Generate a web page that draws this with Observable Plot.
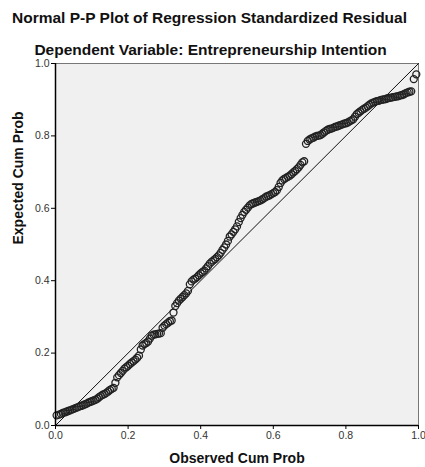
<!DOCTYPE html>
<html>
<head>
<meta charset="utf-8">
<script src="https://cdn.jsdelivr.net/npm/d3@7"></script>
<script src="https://cdn.jsdelivr.net/npm/@observablehq/plot@0.6"></script>
<style>
  html, body { margin: 0; padding: 0; background: #fff; }
  #wrap { position: relative; width: 425px; height: 467px; font-family: "Liberation Sans", Arial, sans-serif; }
  .ttl { position: absolute; left: 0; width: 425px; text-align: center; font-weight: bold; font-size: 15.5px; line-height: 18px; color: #111; white-space: nowrap; }
  #t1 { top: 9px; left: -3px; }
  #t2 { top: 41px; left: -2px; }
</style>
</head>
<body>
<div id="wrap">
  <div id="chart"></div>
  <div class="ttl" id="t1">Normal P-P Plot of Regression Standardized Residual</div>
  <div class="ttl" id="t2">Dependent Variable: Entrepreneurship Intention</div>
</div>
<script>
const titleText = "Normal P-P Plot of Regression Standardized Residual";
const subtitleText = "Dependent Variable: Entrepreneurship Intention";
const xLabel = "Observed Cum Prob";
const yLabel = "Expected Cum Prob";
const tickValues = [0, 0.2, 0.4, 0.6, 0.8, 1.0];
const refLine = [0, 1];

const observed = [
  0.003, 0.010, 0.015, 0.020, 0.025, 0.030, 0.035, 0.040, 0.045, 0.050,
  0.055, 0.060, 0.065, 0.070, 0.075, 0.080, 0.085, 0.090, 0.095, 0.100,
  0.105, 0.110, 0.115, 0.120, 0.125, 0.130, 0.135, 0.140, 0.145, 0.150,
  0.155, 0.160, 0.165, 0.170, 0.175, 0.180, 0.185, 0.190, 0.195, 0.200,
  0.205, 0.210, 0.215, 0.220, 0.225, 0.230, 0.235, 0.240, 0.245, 0.250,
  0.255, 0.260, 0.265, 0.270, 0.275, 0.280, 0.285, 0.290, 0.295, 0.300,
  0.305, 0.310, 0.315, 0.320, 0.325, 0.330, 0.335, 0.340, 0.345, 0.350,
  0.355, 0.360, 0.365, 0.370, 0.375, 0.380, 0.385, 0.390, 0.395, 0.400,
  0.405, 0.410, 0.415, 0.420, 0.425, 0.430, 0.435, 0.440, 0.445, 0.450,
  0.455, 0.460, 0.465, 0.470, 0.475, 0.480, 0.485, 0.490, 0.495, 0.500,
  0.505, 0.510, 0.515, 0.520, 0.525, 0.530, 0.535, 0.540, 0.545, 0.550,
  0.555, 0.560, 0.565, 0.570, 0.575, 0.580, 0.585, 0.590, 0.595, 0.600,
  0.605, 0.610, 0.615, 0.620, 0.625, 0.630, 0.635, 0.640, 0.645, 0.650,
  0.655, 0.660, 0.665, 0.670, 0.675, 0.680, 0.685, 0.690, 0.695, 0.700,
  0.705, 0.710, 0.715, 0.720, 0.725, 0.730, 0.735, 0.740, 0.745, 0.750,
  0.755, 0.760, 0.765, 0.770, 0.775, 0.780, 0.785, 0.790, 0.795, 0.800,
  0.805, 0.810, 0.815, 0.820, 0.825, 0.830, 0.835, 0.840, 0.845, 0.850,
  0.855, 0.860, 0.865, 0.870, 0.875, 0.880, 0.885, 0.890, 0.895, 0.900,
  0.905, 0.910, 0.915, 0.920, 0.925, 0.930, 0.935, 0.940, 0.945, 0.950,
  0.955, 0.960, 0.965, 0.970, 0.975, 0.980, 0.987, 0.994
];
const expected = [
  0.028, 0.030, 0.032, 0.035, 0.036, 0.038, 0.040, 0.042, 0.044, 0.046,
  0.048, 0.050, 0.052, 0.054, 0.056, 0.058, 0.060, 0.063, 0.065, 0.067,
  0.069, 0.071, 0.074, 0.078, 0.082, 0.085, 0.087, 0.090, 0.094, 0.098,
  0.101, 0.104, 0.118, 0.133, 0.139, 0.145, 0.151, 0.157, 0.161, 0.165,
  0.170, 0.174, 0.178, 0.182, 0.187, 0.193, 0.210, 0.221, 0.225, 0.228,
  0.232, 0.240, 0.248, 0.251, 0.252, 0.253, 0.254, 0.255, 0.270, 0.276,
  0.280, 0.284, 0.288, 0.290, 0.312, 0.330, 0.338, 0.345, 0.350, 0.355,
  0.360, 0.365, 0.372, 0.390, 0.398, 0.403, 0.406, 0.410, 0.415, 0.420,
  0.424, 0.428, 0.434, 0.440, 0.447, 0.452, 0.456, 0.460, 0.465, 0.470,
  0.477, 0.485, 0.492, 0.500, 0.510, 0.522, 0.528, 0.535, 0.542, 0.550,
  0.562, 0.573, 0.582, 0.590, 0.596, 0.602, 0.608, 0.612, 0.614, 0.616,
  0.618, 0.620, 0.622, 0.625, 0.628, 0.632, 0.634, 0.636, 0.639, 0.642,
  0.645, 0.650, 0.659, 0.670, 0.677, 0.681, 0.684, 0.687, 0.690, 0.694,
  0.699, 0.703, 0.708, 0.713, 0.720, 0.727, 0.730, 0.778, 0.786, 0.790,
  0.793, 0.795, 0.798, 0.800, 0.801, 0.802, 0.806, 0.810, 0.814, 0.817,
  0.819, 0.820, 0.822, 0.825, 0.826, 0.828, 0.830, 0.832, 0.834, 0.835,
  0.837, 0.840, 0.843, 0.846, 0.853, 0.860, 0.864, 0.868, 0.872, 0.875,
  0.878, 0.882, 0.886, 0.890, 0.892, 0.894, 0.896, 0.897, 0.899, 0.900,
  0.901, 0.902, 0.904, 0.905, 0.906, 0.907, 0.908, 0.909, 0.910, 0.912,
  0.913, 0.915, 0.918, 0.920, 0.922, 0.923, 0.957, 0.970
];

const points = observed.map((o, i) => ({ obs: o, exp: expected[i] }));
const diag = refLine.map(v => ({ obs: v, exp: v }));

const chart = Plot.plot({
  width: 425,
  height: 467,
  marginLeft: 55,
  marginRight: 7,
  marginTop: 63,
  marginBottom: 42,
  style: { fontFamily: "'Liberation Sans', Arial, sans-serif", fontSize: "10.5px", color: "#333", background: "#fff" },
  x: { domain: [0, 1] },
  y: { domain: [0, 1] },
  marks: [
    Plot.frame({ fill: "#f0f0f0", stroke: "#777" }),
    Plot.line(diag, { x: "obs", y: "exp", stroke: "#111", strokeWidth: 1 }),
    Plot.dot(points, { x: "obs", y: "exp", r: 3.5, fill: "none", stroke: "#222", strokeWidth: 1.3 }),
    Plot.ruleX([0], { stroke: "#000", strokeWidth: 1.5 }),
    Plot.ruleY([0], { stroke: "#000", strokeWidth: 1.5 }),
    Plot.axisX({ ticks: tickValues, tickSize: 4, tickPadding: 2, tickFormat: d => d.toFixed(1), label: null, stroke: "#000" }),
    Plot.axisY({ ticks: tickValues, tickSize: 4, tickPadding: 2, tickFormat: d => d.toFixed(1), label: null, stroke: "#000" }),
    Plot.text([xLabel], { frameAnchor: "bottom", dy: 37, text: d => d, fontWeight: "bold", fontSize: 14, fill: "#111" }),
    Plot.text([yLabel], { frameAnchor: "left", dx: -37, rotate: -90, text: d => d, fontWeight: "bold", fontSize: 14, fill: "#111" })
  ]
});
document.getElementById("chart").appendChild(chart);
document.getElementById("t1").textContent = titleText;
document.getElementById("t2").textContent = subtitleText;
</script>
</body>
</html>
